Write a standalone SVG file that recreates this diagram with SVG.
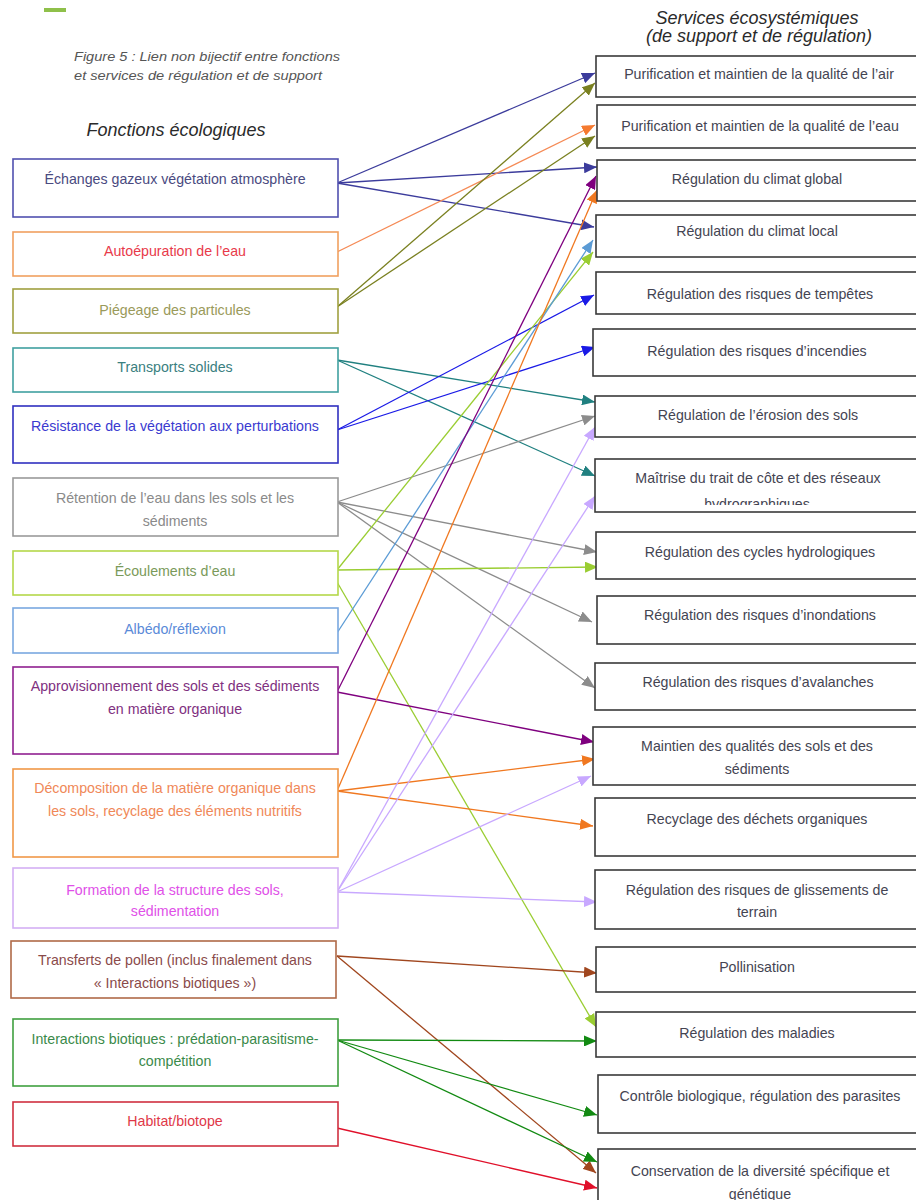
<svg xmlns="http://www.w3.org/2000/svg" width="916" height="1200" viewBox="0 0 916 1200">
<style>
.bg{fill:#ffffff}
.lb{fill:#ffffff;stroke-width:1.6}
.rb{fill:#ffffff;stroke:#3a3a3a;stroke-width:1.6}
.lt{font-family:"Liberation Sans",Arial,sans-serif;font-size:14.2px;text-anchor:middle}
.rt{font-family:"Liberation Sans",Arial,sans-serif;font-size:14.2px;text-anchor:middle;fill:#444452}
.hd{font-family:"Liberation Sans",Arial,sans-serif;font-size:18px;font-style:italic;fill:#2a2a2a;text-anchor:middle}
.cap{font-family:"Liberation Sans",Arial,sans-serif;font-size:12.5px;font-style:italic;fill:#555}
.ln{fill:none;stroke-width:1.3}
</style>
<defs>
<marker id="m1" markerUnits="userSpaceOnUse" markerWidth="13" markerHeight="11" refX="13" refY="5.5" orient="auto"><path d="M0,0L13,5.5L0,11z" fill="#3c3c9c"/></marker>
<marker id="m2" markerUnits="userSpaceOnUse" markerWidth="13" markerHeight="11" refX="13" refY="5.5" orient="auto"><path d="M0,0L13,5.5L0,11z" fill="#f57a30"/></marker>
<marker id="m3" markerUnits="userSpaceOnUse" markerWidth="13" markerHeight="11" refX="13" refY="5.5" orient="auto"><path d="M0,0L13,5.5L0,11z" fill="#7a8020"/></marker>
<marker id="m4" markerUnits="userSpaceOnUse" markerWidth="13" markerHeight="11" refX="13" refY="5.5" orient="auto"><path d="M0,0L13,5.5L0,11z" fill="#208080"/></marker>
<marker id="m5" markerUnits="userSpaceOnUse" markerWidth="13" markerHeight="11" refX="13" refY="5.5" orient="auto"><path d="M0,0L13,5.5L0,11z" fill="#1a1ae6"/></marker>
<marker id="m6" markerUnits="userSpaceOnUse" markerWidth="13" markerHeight="11" refX="13" refY="5.5" orient="auto"><path d="M0,0L13,5.5L0,11z" fill="#8c8c8c"/></marker>
<marker id="m7" markerUnits="userSpaceOnUse" markerWidth="13" markerHeight="11" refX="13" refY="5.5" orient="auto"><path d="M0,0L13,5.5L0,11z" fill="#9acd32"/></marker>
<marker id="m8" markerUnits="userSpaceOnUse" markerWidth="13" markerHeight="11" refX="13" refY="5.5" orient="auto"><path d="M0,0L13,5.5L0,11z" fill="#5b9bd5"/></marker>
<marker id="m9" markerUnits="userSpaceOnUse" markerWidth="13" markerHeight="11" refX="13" refY="5.5" orient="auto"><path d="M0,0L13,5.5L0,11z" fill="#7f007f"/></marker>
<marker id="m10" markerUnits="userSpaceOnUse" markerWidth="13" markerHeight="11" refX="13" refY="5.5" orient="auto"><path d="M0,0L13,5.5L0,11z" fill="#f07820"/></marker>
<marker id="m11" markerUnits="userSpaceOnUse" markerWidth="13" markerHeight="11" refX="13" refY="5.5" orient="auto"><path d="M0,0L13,5.5L0,11z" fill="#c8a8ff"/></marker>
<marker id="m12" markerUnits="userSpaceOnUse" markerWidth="13" markerHeight="11" refX="13" refY="5.5" orient="auto"><path d="M0,0L13,5.5L0,11z" fill="#a0461e"/></marker>
<marker id="m13" markerUnits="userSpaceOnUse" markerWidth="13" markerHeight="11" refX="13" refY="5.5" orient="auto"><path d="M0,0L13,5.5L0,11z" fill="#128a12"/></marker>
<marker id="m14" markerUnits="userSpaceOnUse" markerWidth="13" markerHeight="11" refX="13" refY="5.5" orient="auto"><path d="M0,0L13,5.5L0,11z" fill="#e0102a"/></marker>
<clipPath id="clip8"><rect x="596" y="460" width="320" height="45"/></clipPath>
</defs>
<rect class="bg" x="0" y="0" width="916" height="1200"/>
<rect x="44" y="8" width="22" height="4" fill="#8fc04a"/>
<g id="headers">
<text class="hd" x="757" y="24">Services écosystémiques</text>
<text class="hd" x="759" y="42">(de support et de régulation)</text>
<text class="cap" x="74" y="61" textLength="266" lengthAdjust="spacingAndGlyphs">Figure 5 : Lien non bijectif entre fonctions</text>
<text class="cap" x="74" y="80" textLength="248" lengthAdjust="spacingAndGlyphs">et services de régulation et de support</text>
<text class="hd" x="176" y="136">Fonctions écologiques</text>
</g>
<g id="connectors">
<line class="ln" stroke="#3c3c9c" x1="337" y1="183" x2="595" y2="73" marker-end="url(#m1)"/>
<line class="ln" stroke="#3c3c9c" x1="337" y1="183" x2="597" y2="167" marker-end="url(#m1)"/>
<line class="ln" stroke="#3c3c9c" x1="337" y1="183" x2="594" y2="227" marker-end="url(#m1)"/>
<line class="ln" stroke="#f58a55" x1="337" y1="252" x2="595" y2="125" marker-end="url(#m2)"/>
<line class="ln" stroke="#7a8020" x1="337" y1="307" x2="595" y2="83" marker-end="url(#m3)"/>
<line class="ln" stroke="#7a8020" x1="337" y1="307" x2="595" y2="136" marker-end="url(#m3)"/>
<line class="ln" stroke="#208080" x1="337" y1="360" x2="595" y2="402" marker-end="url(#m4)"/>
<line class="ln" stroke="#208080" x1="337" y1="360" x2="595" y2="476" marker-end="url(#m4)"/>
<line class="ln" stroke="#1a1ae6" x1="337" y1="430" x2="594" y2="295" marker-end="url(#m5)"/>
<line class="ln" stroke="#1a1ae6" x1="337" y1="430" x2="595" y2="347" marker-end="url(#m5)"/>
<line class="ln" stroke="#8c8c8c" x1="337" y1="502" x2="595" y2="416" marker-end="url(#m6)"/>
<line class="ln" stroke="#8c8c8c" x1="337" y1="502" x2="597" y2="552" marker-end="url(#m6)"/>
<line class="ln" stroke="#8c8c8c" x1="337" y1="502" x2="592" y2="622" marker-end="url(#m6)"/>
<line class="ln" stroke="#8c8c8c" x1="337" y1="502" x2="595" y2="688" marker-end="url(#m6)"/>
<line class="ln" stroke="#9acd32" x1="337" y1="570" x2="593" y2="252" marker-end="url(#m7)"/>
<line class="ln" stroke="#9acd32" x1="337" y1="570" x2="598" y2="567" marker-end="url(#m7)"/>
<line class="ln" stroke="#9acd32" x1="337" y1="582" x2="596" y2="1027" marker-end="url(#m7)"/>
<line class="ln" stroke="#5b9bd5" x1="337" y1="633" x2="593" y2="240" marker-end="url(#m8)"/>
<line class="ln" stroke="#7f007f" x1="337" y1="692" x2="596" y2="176" marker-end="url(#m9)"/>
<line class="ln" stroke="#7f007f" x1="337" y1="692" x2="594" y2="742" marker-end="url(#m9)"/>
<line class="ln" stroke="#f07820" x1="337" y1="791" x2="597" y2="190" marker-end="url(#m10)"/>
<line class="ln" stroke="#f07820" x1="337" y1="791" x2="595" y2="759" marker-end="url(#m10)"/>
<line class="ln" stroke="#f07820" x1="337" y1="791" x2="593" y2="826" marker-end="url(#m10)"/>
<line class="ln" stroke="#c8a8ff" x1="337" y1="892" x2="595" y2="427" marker-end="url(#m11)"/>
<line class="ln" stroke="#c8a8ff" x1="337" y1="892" x2="595" y2="496" marker-end="url(#m11)"/>
<line class="ln" stroke="#c8a8ff" x1="337" y1="892" x2="591" y2="776" marker-end="url(#m11)"/>
<line class="ln" stroke="#c8a8ff" x1="337" y1="892" x2="597" y2="902" marker-end="url(#m11)"/>
<line class="ln" stroke="#a0461e" x1="337" y1="956" x2="597" y2="973" marker-end="url(#m12)"/>
<line class="ln" stroke="#a0461e" x1="337" y1="956" x2="596" y2="1173" marker-end="url(#m12)"/>
<line class="ln" stroke="#128a12" x1="337" y1="1040" x2="597" y2="1041" marker-end="url(#m13)"/>
<line class="ln" stroke="#128a12" x1="337" y1="1040" x2="597" y2="1115" marker-end="url(#m13)"/>
<line class="ln" stroke="#128a12" x1="337" y1="1040" x2="597" y2="1162" marker-end="url(#m13)"/>
<line class="ln" stroke="#e0102a" x1="337" y1="1128" x2="597" y2="1188" marker-end="url(#m14)"/>
</g>
<g id="f1"><rect class="lb" x="13" y="159" width="325" height="58" stroke="#5050b0"/><text class="lt" x="175" y="184" fill="#4a4a80">Échanges gazeux végétation atmosphère</text></g>
<g id="f2"><rect class="lb" x="13" y="232" width="325" height="44" stroke="#f0a060"/><text class="lt" x="175" y="256" fill="#e83a4a">Autoépuration de l’eau</text></g>
<g id="f3"><rect class="lb" x="13" y="289" width="325" height="44" stroke="#a0a040"/><text class="lt" x="175" y="315" fill="#9a9a5a">Piégeage des particules</text></g>
<g id="f4"><rect class="lb" x="13" y="348" width="325" height="44" stroke="#40a0a0"/><text class="lt" x="175" y="372" fill="#3a8080">Transports solides</text></g>
<g id="f5"><rect class="lb" x="13" y="406" width="325" height="57" stroke="#3030c0"/><text class="lt" x="175" y="431" fill="#3a3ad0">Résistance de la végétation aux perturbations</text></g>
<g id="f6"><rect class="lb" x="13" y="478" width="325" height="58" stroke="#9a9a9a"/><text class="lt" x="175" y="503" fill="#8a8a8a">Rétention de l’eau dans les sols et les</text><text class="lt" x="175" y="526" fill="#8a8a8a">sédiments</text></g>
<g id="f7"><rect class="lb" x="13" y="551" width="325" height="44" stroke="#b5d84a"/><text class="lt" x="175" y="576" fill="#7a9a5a">Écoulements d’eau</text></g>
<g id="f8"><rect class="lb" x="13" y="608" width="325" height="45" stroke="#7aa8e0"/><text class="lt" x="175" y="634" fill="#5a8ad8">Albédo/réflexion</text></g>
<g id="f9"><rect class="lb" x="13" y="667" width="325" height="87" stroke="#902090"/><text class="lt" x="175" y="691" fill="#803080">Approvisionnement des sols et des sédiments</text><text class="lt" x="175" y="714" fill="#803080">en matière organique</text></g>
<g id="f10"><rect class="lb" x="13" y="769" width="325" height="88" stroke="#f09848"/><text class="lt" x="175" y="793" fill="#f08858">Décomposition de la matière organique dans</text><text class="lt" x="175" y="816" fill="#f08858">les sols, recyclage des éléments nutritifs</text></g>
<g id="f11"><rect class="lb" x="13" y="868" width="325" height="60" stroke="#d4b0f4"/><text class="lt" x="175" y="895" fill="#e050e8">Formation de la structure des sols,</text><text class="lt" x="175" y="916" fill="#e050e8">sédimentation</text></g>
<g id="f12"><rect class="lb" x="11" y="941" width="325" height="57" stroke="#b06a48"/><text class="lt" x="175" y="965" fill="#8a4a4a">Transferts de pollen (inclus finalement dans</text><text class="lt" x="175" y="988" fill="#8a4a4a">« Interactions biotiques »)</text></g>
<g id="f13"><rect class="lb" x="13" y="1019" width="325" height="67" stroke="#40a040"/><text class="lt" x="175" y="1044" fill="#3a8a4a">Interactions biotiques : prédation-parasitisme-</text><text class="lt" x="175" y="1066" fill="#3a8a4a">compétition</text></g>
<g id="f14"><rect class="lb" x="13" y="1102" width="325" height="44" stroke="#d03040"/><text class="lt" x="175" y="1126" fill="#e03848">Habitat/biotope</text></g>
<g id="s1"><rect class="rb" x="596" y="56" width="330" height="41"/><text class="rt" x="759" y="79">Purification et maintien de la qualité de l’air</text></g>
<g id="s2"><rect class="rb" x="597" y="105" width="330" height="43"/><text class="rt" x="760" y="131">Purification et maintien de la qualité de l’eau</text></g>
<g id="s3"><rect class="rb" x="597" y="160" width="330" height="41"/><text class="rt" x="757" y="184">Régulation du climat global</text></g>
<g id="s4"><rect class="rb" x="596" y="215" width="330" height="42"/><text class="rt" x="757" y="236">Régulation du climat local</text></g>
<g id="s5"><rect class="rb" x="596" y="272" width="330" height="42"/><text class="rt" x="760" y="299">Régulation des risques de tempêtes</text></g>
<g id="s6"><rect class="rb" x="593" y="329" width="330" height="47"/><text class="rt" x="757" y="356">Régulation des risques d’incendies</text></g>
<g id="s7"><rect class="rb" x="595" y="396" width="330" height="41"/><text class="rt" x="758" y="420">Régulation de l’érosion des sols</text></g>
<g id="s8"><rect class="rb" x="595" y="459" width="330" height="53"/><text class="rt" x="758" y="483">Maîtrise du trait de côte et des réseaux</text><text class="rt" x="757" y="509" clip-path="url(#clip8)">hydrographiques</text></g>
<g id="s9"><rect class="rb" x="596" y="532" width="330" height="47"/><text class="rt" x="760" y="557">Régulation des cycles hydrologiques</text></g>
<g id="s10"><rect class="rb" x="597" y="596" width="330" height="48"/><text class="rt" x="760" y="620">Régulation des risques d’inondations</text></g>
<g id="s11"><rect class="rb" x="595" y="663" width="330" height="47"/><text class="rt" x="758" y="687">Régulation des risques d’avalanches</text></g>
<g id="s12"><rect class="rb" x="593" y="727" width="330" height="58"/><text class="rt" x="757" y="751">Maintien des qualités des sols et des</text><text class="rt" x="757" y="774">sédiments</text></g>
<g id="s13"><rect class="rb" x="595" y="798" width="330" height="58"/><text class="rt" x="757" y="824">Recyclage des déchets organiques</text></g>
<g id="s14"><rect class="rb" x="595" y="870" width="330" height="59"/><text class="rt" x="757" y="895">Régulation des risques de glissements de</text><text class="rt" x="757" y="917">terrain</text></g>
<g id="s15"><rect class="rb" x="596" y="947" width="330" height="45"/><text class="rt" x="757" y="972">Pollinisation</text></g>
<g id="s16"><rect class="rb" x="596" y="1012" width="330" height="45"/><text class="rt" x="757" y="1038">Régulation des maladies</text></g>
<g id="s17"><rect class="rb" x="598" y="1075" width="330" height="58"/><text class="rt" x="760" y="1101">Contrôle biologique, régulation des parasites</text></g>
<g id="s18"><rect class="rb" x="598" y="1149" width="330" height="70"/><text class="rt" x="760" y="1176">Conservation de la diversité spécifique et</text><text class="rt" x="760" y="1199">génétique</text></g>
</svg>
